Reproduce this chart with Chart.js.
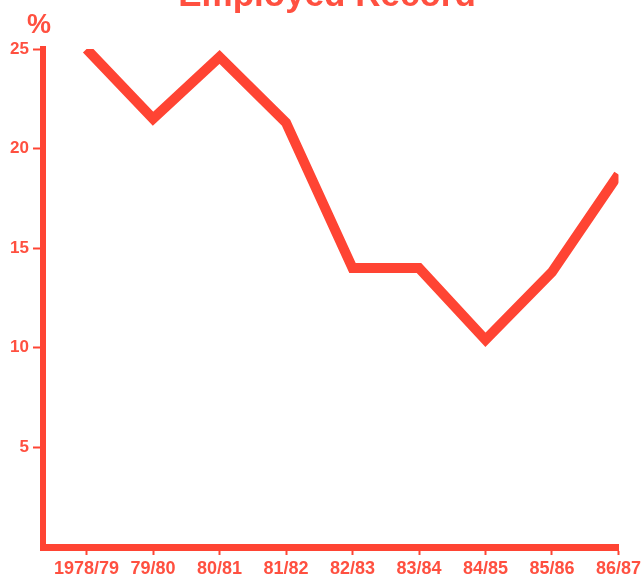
<!DOCTYPE html>
<html>
<head>
<meta charset="utf-8">
<script src="https://cdn.jsdelivr.net/npm/chart.js@4"></script>
<style>
  html, body { margin: 0; padding: 0; background: #ffffff; }
  #wrap { position: relative; width: 644px; height: 578px; }
</style>
</head>
<body>
<div id="wrap"><canvas id="chart" width="644" height="578"></canvas></div>
<script>
// Share of people employed, by financial year (%)
const years = ['1978/79', '79/80', '80/81', '81/82', '82/83', '83/84', '84/85', '85/86', '86/87'];
const employedPct = [25, 21.5, 24.6, 21.3, 14, 14, 10.4, 13.8, 18.7];
const yTicks = [5, 10, 15, 20, 25];

const RED = '#ff4433';
const TEXT_RED = '#ff5040';
const BOLD_FACE = '"Liberation Sans", Arial, sans-serif';

// Title and unit label drawn on the canvas
const headings = {
  id: 'headings',
  afterDraw(chart) {
    const ctx = chart.ctx;
    ctx.save();
    ctx.fillStyle = TEXT_RED;
    ctx.textAlign = 'center';
    ctx.textBaseline = 'alphabetic';
    ctx.font = 'bold 35px ' + BOLD_FACE;
    ctx.fillText('Employed Record', 327, 6);
    ctx.font = 'bold 27px ' + BOLD_FACE;
    ctx.fillText('%', 39, 33);
    ctx.restore();
  }
};

new Chart(document.getElementById('chart'), {
  type: 'line',
  data: {
    datasets: [{
      data: employedPct.map((v, i) => ({ x: i, y: v })),
      borderColor: RED,
      borderWidth: 10,
      borderJoinStyle: 'miter',
      borderCapStyle: 'butt',
      tension: 0,
      pointRadius: 0,
      fill: false
    }]
  },
  options: {
    responsive: false,
    animation: false,
    layout: { padding: { left: 0, right: 24, top: 49, bottom: 0 } },
    plugins: {
      legend: { display: false },
      tooltip: { enabled: false },
      title: { display: false }
    },
    scales: {
      x: {
        type: 'linear',
        min: -0.655,
        max: years.length - 1,
        afterBuildTicks(scale) {
          scale.ticks = years.map((_, i) => ({ value: i }));
        },
        afterFit(scale) { scale.height = 31; },
        border: { display: true, color: RED, width: 7 },
        grid: {
          drawOnChartArea: false,
          drawTicks: true,
          tickLength: 8,
          tickWidth: 2,
          tickColor: RED
        },
        ticks: {
          autoSkip: false,
          maxRotation: 0,
          padding: 3,
          color: TEXT_RED,
          font: { family: BOLD_FACE, size: 18, weight: 'bold' },
          callback: (v) => years[v] ?? ''
        }
      },
      y: {
        type: 'linear',
        min: 0,
        max: 25,
        afterBuildTicks(scale) {
          scale.ticks = yTicks.map(v => ({ value: v }));
        },
        afterFit(scale) { scale.width = 43; },
        border: { display: true, color: RED, width: 6 },
        grid: {
          drawOnChartArea: false,
          drawTicks: true,
          tickLength: 10,
          tickWidth: 2,
          tickColor: RED
        },
        ticks: {
          padding: 4,
          color: TEXT_RED,
          font: { family: BOLD_FACE, size: 17, weight: 'bold' }
        }
      }
    }
  },
  plugins: [headings]
});
</script>
</body>
</html>
